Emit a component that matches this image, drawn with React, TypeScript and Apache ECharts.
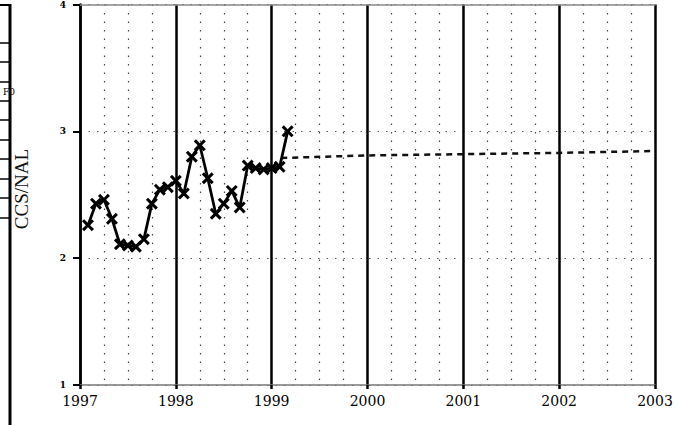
import React, { useEffect, useRef } from "react";
import * as echarts from "echarts";

// Monthly observed ratio, Feb 1997 .. Mar 1999
const actualStartYear = 1997;
const actualStartMonth = 1; // 0 = January
const actualValues = [
  2.26, 2.43, 2.46, 2.31, 2.11, 2.1, 2.09, 2.15, 2.43, 2.54, 2.56, 2.61,
  2.51, 2.8, 2.89, 2.63, 2.35, 2.43, 2.53, 2.4, 2.73, 2.71, 2.7, 2.71,
  2.72, 3.0,
];
// Projection (dashed)
const forecastYears = [1999.1, 2000, 2001, 2002, 2003];
const forecastValues = [2.79, 2.81, 2.82, 2.83, 2.845];

const xTickYears = [1997, 1998, 1999, 2000, 2001, 2002, 2003];
const yTicks = [1, 2, 3, 4];
const yTitle = "CCS/NAL";

const leftFrameRows = [43, 62, 82, 101, 120, 140, 159, 179, 198, 218];

const X_SYMBOL =
  "path://M0,1.8L1.8,0L5,3.2L8.2,0L10,1.8L6.8,5L10,8.2L8.2,10L5,6.8L1.8,10L0,8.2L3.2,5Z";

export default function App() {
  const ref = useRef<HTMLDivElement>(null);
  useEffect(() => {
    document.body.style.margin = "0";
    const chart = echarts.init(ref.current!, null, { renderer: "svg" });
    const actualData = actualValues.map((v, i) => [
      actualStartYear + (actualStartMonth + i) / 12,
      v,
    ]);
    const forecastData = forecastYears.map((y, i) => [y, forecastValues[i]]);

    const graphics: any[] = [
      {
        type: "line",
        shape: { x1: 10, y1: 4, x2: 10, y2: 425 },
        style: { stroke: "#000", lineWidth: 3 },
      },
      {
        type: "line",
        shape: { x1: 0, y1: 5, x2: 11, y2: 5 },
        style: { stroke: "#000", lineWidth: 2 },
      },
      ...leftFrameRows.map((y) => ({
        type: "line",
        shape: { x1: 0, y1: y, x2: 10, y2: y },
        style: { stroke: "#000", lineWidth: 1.5 },
      })),
      {
        type: "text",
        x: 3,
        y: 92,
        style: {
          text: "F0",
          fontFamily: "DejaVu Serif",
          fontSize: 9,
          fill: "#000",
          verticalAlign: "middle",
        },
      },
      {
        type: "text",
        x: 21,
        y: 189,
        rotation: Math.PI / 2,
        style: {
          text: yTitle,
          fontFamily: "Liberation Serif",
          fontSize: 19,
          fill: "#111",
          align: "center",
          verticalAlign: "middle",
        },
      },
    ];

    chart.setOption({
      animation: false,
      backgroundColor: "#fff",
      grid: { left: 80, right: 22, top: 4, bottom: 40, containLabel: false },
      graphic: graphics,
      xAxis: [
        {
          type: "value",
          min: xTickYears[0],
          max: xTickYears[xTickYears.length - 1],
          interval: 1,
          axisLine: { show: true, lineStyle: { color: "#777", width: 1.5 } },
          axisTick: {
            show: true,
            inside: false,
            length: 4,
            lineStyle: { color: "#000", width: 2.5 },
          },
          axisLabel: {
            color: "#000",
            fontFamily: "DejaVu Serif",
            fontSize: 14,
            margin: 9,
            formatter: (v: number) => String(v),
          },
          splitLine: { show: true, lineStyle: { color: "#000", width: 2.5 } },
          minorTick: { show: false, splitNumber: 4 },
          minorSplitLine: {
            show: true,
            lineStyle: { color: "#444", width: 1.2, type: [1.5, 7] },
          },
        },
        {
          type: "value",
          position: "top",
          min: xTickYears[0],
          max: xTickYears[xTickYears.length - 1],
          interval: 1,
          axisLine: { show: true, lineStyle: { color: "#888", width: 1.5 } },
          axisTick: { show: false },
          axisLabel: { show: false },
          splitLine: { show: false },
        },
      ],
      yAxis: {
        type: "value",
        min: yTicks[0],
        max: yTicks[yTicks.length - 1],
        interval: 1,
        axisLine: { show: true, lineStyle: { color: "#000", width: 2.5 } },
        axisTick: {
          show: true,
          length: 7,
          lineStyle: { color: "#000", width: 2 },
        },
        axisLabel: {
          color: "#000",
          fontFamily: "DejaVu Serif",
          fontWeight: "bold",
          fontSize: 9,
          margin: 14,
        },
        splitLine: {
          show: true,
          lineStyle: { color: "#555", width: 1.2, type: [1.5, 7] },
        },
      },
      series: [
        {
          type: "line",
          data: actualData,
          symbol: X_SYMBOL,
          symbolSize: 12,
          showAllSymbol: true,
          itemStyle: { color: "#000" },
          lineStyle: { color: "#000", width: 2.8 },
          z: 5,
        },
        {
          type: "line",
          data: forecastData,
          symbol: "none",
          lineStyle: { color: "#111", width: 2.5, type: [6, 5] },
          z: 4,
        },
      ],
    });
    return () => chart.dispose();
  }, []);
  return <div ref={ref} style={{ width: 677, height: 425 }} />;
}
